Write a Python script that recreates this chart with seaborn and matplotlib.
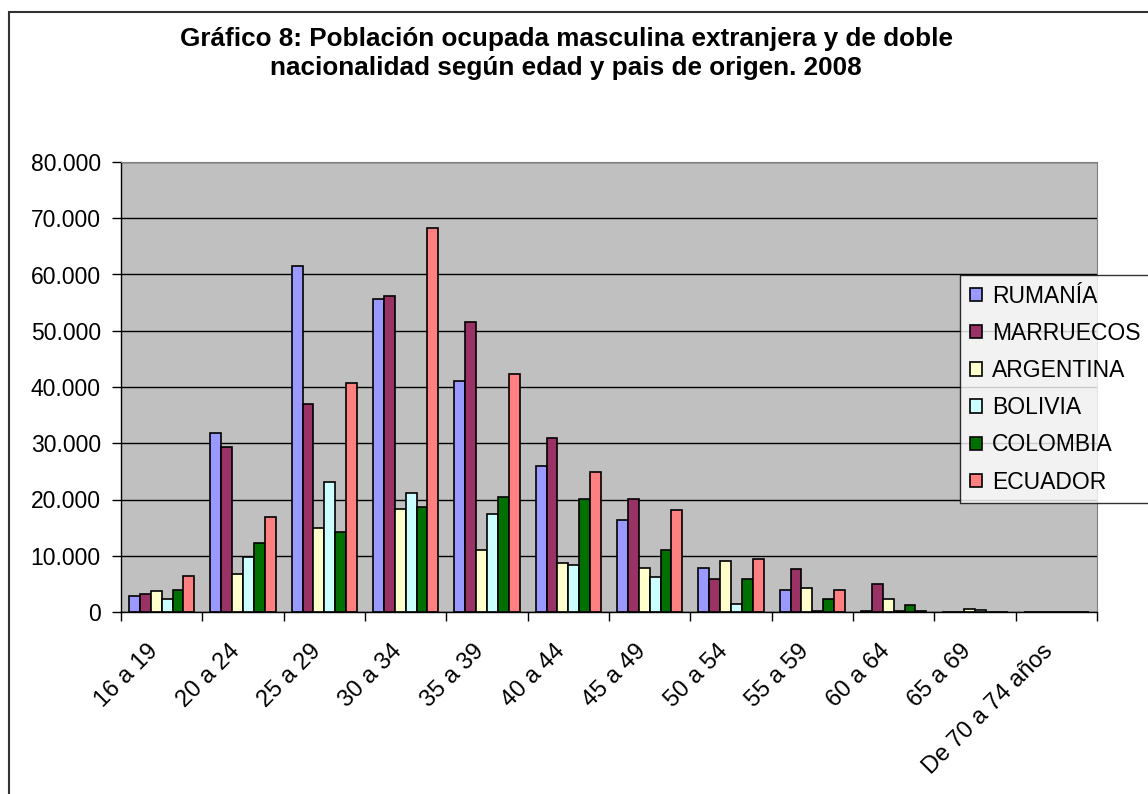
import pandas as pd
import numpy as np
import matplotlib
matplotlib.use("Agg")
import matplotlib.pyplot as plt
from matplotlib.ticker import FuncFormatter, FixedLocator
from matplotlib.patches import Rectangle
from matplotlib.transforms import ScaledTranslation
import seaborn as sns

# Datos (ocupados varones por edad y pais)
edades = ["16 a 19", "20 a 24", "25 a 29", "30 a 34", "35 a 39", "40 a 44",
          "45 a 49", "50 a 54", "55 a 59", "60 a 64", "65 a 69", "De 70 a 74 años"]
paises = ["RUMANÍA", "MARRUECOS", "ARGENTINA", "BOLIVIA", "COLOMBIA", "ECUADOR"]

rumania = [2900, 31900, 61500, 55600, 41100, 26000, 16400, 7800, 4000, 200, 0, 0]
marruecos = [3200, 29300, 36900, 56200, 51600, 31000, 20100, 5800, 7600, 5000, 0, 0]
argentina = [3800, 6700, 14900, 18400, 11100, 8800, 7800, 9000, 4300, 2300, 600, 0]
bolivia = [2300, 9700, 23100, 21100, 17500, 8400, 6300, 1400, 200, 150, 300, 0]
colombia = [4000, 12200, 14300, 18700, 20500, 20100, 11100, 5800, 2400, 1200, 0, 0]
ecuador = [6400, 16900, 40700, 68300, 42400, 24900, 18100, 9500, 4000, 200, 0, 0]

colores = ["#9999FF", "#993366", "#FFFFCC", "#CCFFFF", "#007000", "#FF8080"]

series = [rumania, marruecos, argentina, bolivia, colombia, ecuador]
filas = []
for pais, valores in zip(paises, series):
    for edad, v in zip(edades, valores):
        filas.append({"edad": edad, "pais": pais, "ocupados": v})
df = pd.DataFrame(filas)

plt.rcParams["font.family"] = ["Liberation Sans", "DejaVu Sans"]
fs = 16.5

fig = plt.figure(figsize=(11.48, 7.94), dpi=100)
ax = fig.add_axes([121 / 1148, 1 - 612 / 794, (1097 - 121) / 1148, (612 - 162) / 794])
ax.set_facecolor("#C0C0C0")

sns.barplot(data=df, x="edad", y="ocupados", hue="pais", order=edades,
            hue_order=paises, palette=colores, width=0.8, edgecolor="black",
            linewidth=1.2, saturation=1, ax=ax, legend=True)

ax.set_ylim(0, 80000)
ax.set_xlim(-0.5, len(edades) - 0.5)
ax.yaxis.set_major_locator(FixedLocator(np.arange(0, 80001, 10000)))
ax.yaxis.set_major_formatter(FuncFormatter(lambda v, p: f"{v:,.0f}".replace(",", ".")))
ax.grid(axis="y", color="black", linewidth=1)
ax.set_axisbelow(True)

# etiquetas en el centro, marcas entre grupos
ax.set_xticks(range(len(edades)))
ax.set_xticklabels(edades, rotation=45, ha="right", va="center", rotation_mode="anchor")
ax.tick_params(axis="x", which="major", length=0, pad=26, labelsize=17)
for etiqueta in ax.get_xticklabels():
    etiqueta.set_transform(etiqueta.get_transform()
                           + ScaledTranslation(-5 / 72, 0, fig.dpi_scale_trans))
ax.set_xticks(np.arange(-0.5, len(edades), 1), minor=True)
ax.tick_params(axis="x", which="minor", length=6.5, width=1, color="black", direction="out")
ax.tick_params(axis="y", length=6.5, width=1, labelsize=fs, pad=8)

ax.set_xlabel("")
ax.set_ylabel("")
for lado in ["top", "right"]:
    ax.spines[lado].set_color("#808080")
for lado in ["left", "bottom"]:
    ax.spines[lado].set_color("black")
    ax.spines[lado].set_linewidth(1)

ax.get_legend().remove()
handles, labels = ax.get_legend_handles_labels()
leg = fig.legend(handles, labels, loc="upper left",
                 bbox_to_anchor=(960 / 1148, 1 - 275 / 794), frameon=True,
                 fontsize=fs, handlelength=0.52, handleheight=0.52,
                 handletextpad=0.44, labelspacing=0.62, borderpad=0.42,
                 fancybox=False, borderaxespad=0)
leg.get_frame().set_edgecolor("black")
leg.get_frame().set_linewidth(1)
leg.get_frame().set_facecolor("white")

fig.text(566 / 1148, 1 - 46 / 794, "Gráfico 8: Población ocupada masculina extranjera y de doble",
         ha="center", va="baseline", fontsize=18.8, fontweight="bold")
fig.text(566 / 1148, 1 - 75 / 794, "nacionalidad según edad y pais de origen. 2008",
         ha="center", va="baseline", fontsize=18.8, fontweight="bold")

# marco exterior del grafico
fig.patches.append(Rectangle((9 / 1148, -0.05), 1.2, 1 - 12 / 794 + 0.05,
                             transform=fig.transFigure, fill=False,
                             edgecolor="#333333", linewidth=1.5))

fig.savefig("out.png", dpi=100)
